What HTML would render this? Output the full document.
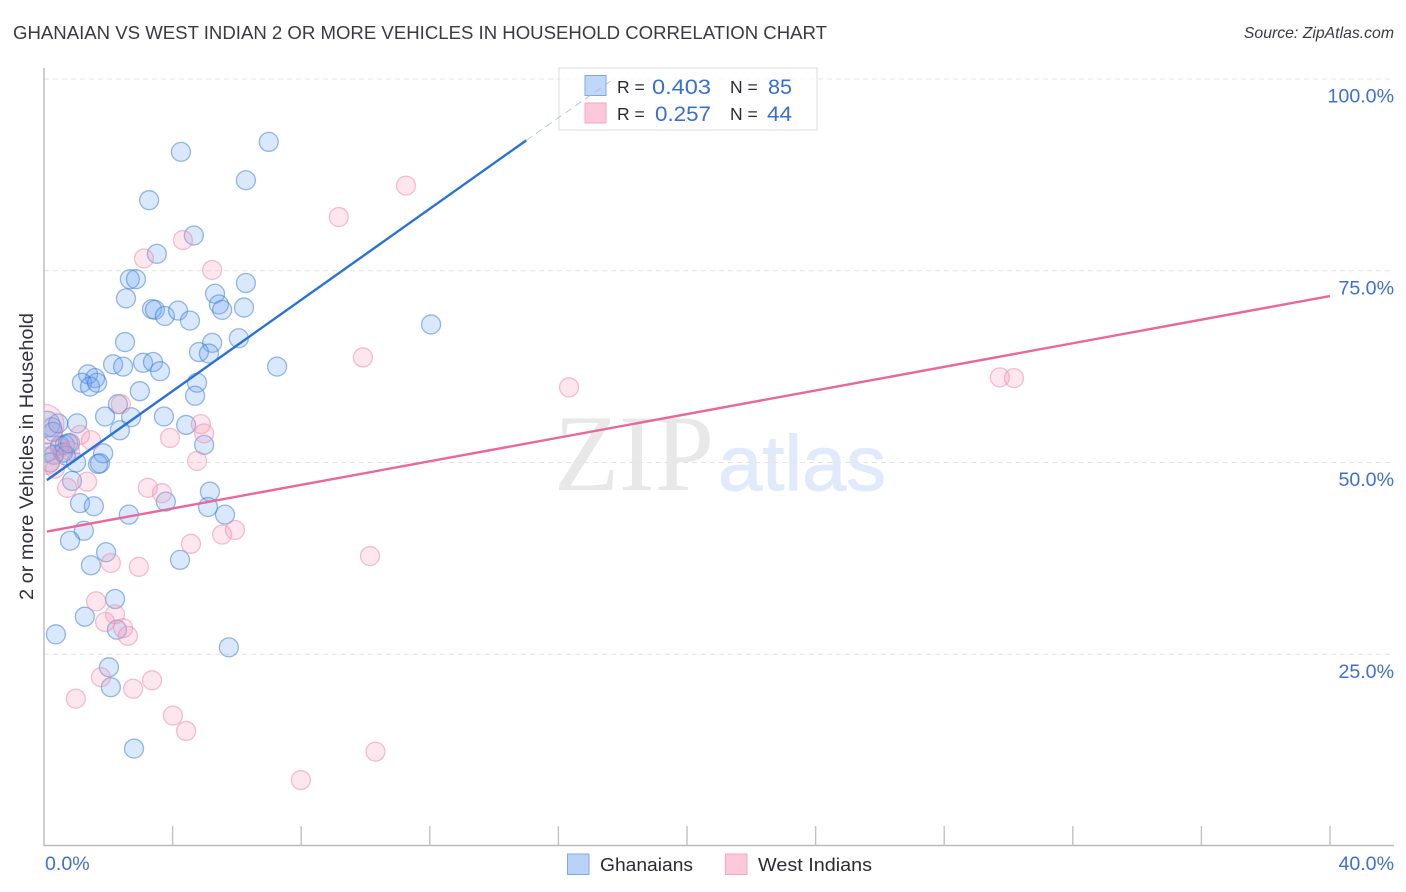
<!DOCTYPE html>
<html lang="en">
<head>
<meta charset="utf-8">
<title>Ghanaian vs West Indian 2 or more Vehicles in Household Correlation Chart</title>
<style>
html,body{margin:0;padding:0;background:#fff;width:1406px;height:892px;overflow:hidden}
svg{display:block;font-family:"Liberation Sans",sans-serif}
</style>
</head>
<body>
<svg id="chart" width="1406" height="892" viewBox="0 0 1406 892" xmlns="http://www.w3.org/2000/svg">
  <defs><clipPath id="plot-clip"><rect x="44" y="60" width="1360" height="786"/></clipPath></defs>
  <rect x="0" y="0" width="1406" height="892" fill="#fff"/>
  <text x="13" y="39" font-size="18.6" fill="#3a3a42" textLength="814" lengthAdjust="spacingAndGlyphs">GHANAIAN VS WEST INDIAN 2 OR MORE VEHICLES IN HOUSEHOLD CORRELATION CHART</text>
  <text x="1394" y="38" font-size="15.8" font-style="italic" fill="#3a3a44" text-anchor="end">Source: ZipAtlas.com</text>
  <text x="554" y="490" font-family="'Liberation Serif',serif" font-size="109" fill="#e8e8e8" textLength="160" lengthAdjust="spacingAndGlyphs">ZIP</text>
  <text x="718" y="490" font-size="78" fill="#e0eafa" stroke="#e0eafa" stroke-width="1" textLength="168" lengthAdjust="spacingAndGlyphs">atlas</text>
  <g id="grid"></g>
  <g id="ghanaian-points" clip-path="url(#plot-clip)"></g>
  <g id="west-indian-points" clip-path="url(#plot-clip)"></g>
  <g id="trend-lines"></g>
  <g id="axes"></g>
  <text transform="translate(33,456.5) rotate(-90)" font-size="19" fill="#33333b" text-anchor="middle" textLength="287" lengthAdjust="spacingAndGlyphs">2 or more Vehicles in Household</text>

  <g>
    <rect x="559" y="68" width="258" height="62" fill="#fff" fill-opacity="0.82" stroke="#dcdcdc" stroke-width="1"/>
    <rect x="585" y="75.500" width="21" height="20" fill="#b9d3f8" fill-opacity="0.9" stroke="#7fa8e0" stroke-width="1"/>
    <rect x="585" y="103" width="21" height="20" fill="#fcc8da" stroke="#f3a9c2" stroke-width="1"/>
    <text x="617" y="93" font-size="17.500" fill="#2b2b33">R =</text>
    <text x="652" y="94" font-size="21" fill="#3a6fd0" textLength="59" lengthAdjust="spacingAndGlyphs">0.403</text>
    <text x="730" y="93" font-size="17.500" fill="#2b2b33">N =</text>
    <text x="768" y="94" font-size="21" fill="#3a6fd0" textLength="24" lengthAdjust="spacingAndGlyphs">85</text>
    <text x="617" y="120" font-size="17.500" fill="#2b2b33">R =</text>
    <text x="655" y="121" font-size="21" fill="#3a6fd0" textLength="56" lengthAdjust="spacingAndGlyphs">0.257</text>
    <text x="730" y="120" font-size="17.500" fill="#2b2b33">N =</text>
    <text x="767" y="121" font-size="21" fill="#3a6fd0" textLength="25" lengthAdjust="spacingAndGlyphs">44</text>
  </g>

  <g id="trend-extension"></g>

  <g>
    <rect x="567.500" y="854" width="21.500" height="20.500" fill="#b9d3f8" stroke="#7fa8e0" stroke-width="1"/>
    <text x="600" y="871" font-size="18.500" fill="#2b2b33" textLength="93" lengthAdjust="spacingAndGlyphs">Ghanaians</text>
    <rect x="725.500" y="854" width="21.500" height="20.500" fill="#fcc8da" stroke="#f3a9c2" stroke-width="1"/>
    <text x="758" y="871" font-size="18.500" fill="#2b2b33" textLength="114" lengthAdjust="spacingAndGlyphs">West Indians</text>
  </g>
</svg>
<script>
const yTickValues = [25, 50, 75, 100];
const yTickLabels = ["25.0%", "50.0%", "75.0%", "100.0%"];
const xTickValues = [0, 4, 8, 12, 16, 20, 24, 28, 32, 36, 40];
const xEndLabels = ["0.0%", "40.0%"];

const ghanaianX = [4.26,6.99,6.28,3.27,4.66,3.51,2.67,2.86,2.55,6.28,5.32,5.44,5.54,6.22,3.36,3.45,3.76,4.17,4.54,6.06,2.52,5.23,4.82,5.13,12.04,7.25,2.15,2.46,3.08,3.39,3.61,4.76,1.37,1.59,1.18,1.43,1.65,2.98,4.70,2.30,1.90,2.71,3.73,1.03,2.36,4.42,4.98,1.84,1.74,1.68,1.00,0.87,1.12,1.55,3.79,5.16,5.10,5.63,2.64,1.24,0.81,1.93,1.46,4.23,2.21,1.27,2.27,0.37,5.75,2.02,2.08,2.80,0.09,0.25,0.28,0.44,0.50,0.65,0.75,0.59,0.68,0.81,0.31,0.09,0.19];
const ghanaianY = [90.5,91.8,86.8,84.2,79.6,77.2,73.9,73.9,71.4,73.4,72.0,70.6,69.9,70.2,70.0,69.9,69.1,69.8,68.5,66.2,65.7,65.6,64.4,64.2,68.0,62.5,62.8,62.5,63.0,63.1,61.9,60.4,61.5,61.0,60.4,59.9,60.4,59.3,58.7,57.6,56.0,55.9,56.0,55.1,54.2,54.9,52.3,51.2,49.9,49.8,50.0,47.6,44.7,44.3,44.9,46.2,44.2,43.2,43.2,41.1,39.8,38.3,36.6,37.3,32.2,29.9,28.2,27.6,25.9,23.3,20.7,12.7,55.0,54.6,54.0,55.1,52.2,52.3,52.5,51.3,50.9,52.5,51.0,51.3,50.0];
const westIndianX = [11.26,9.17,4.32,3.11,5.23,9.92,16.33,29.73,30.17,2.39,4.88,4.98,3.92,1.46,1.12,4.76,0.72,1.34,3.23,3.67,4.57,5.54,5.94,10.14,2.08,2.95,1.62,2.21,1.90,2.46,2.61,1.77,3.36,2.77,0.99,4.01,4.42,10.31,7.99,0.00,0.06,0.50,0.81,0.34];
const westIndianY = [86.1,82.0,79.0,76.6,75.1,63.7,59.8,61.1,61.0,57.6,55.0,53.8,53.2,52.9,53.6,50.2,46.7,47.5,46.7,46.0,39.4,40.6,41.2,37.8,36.9,36.4,31.9,30.2,29.2,28.4,27.4,22.0,21.6,20.5,19.2,17.0,15.0,12.3,8.6,55.0,50.2,51.9,51.5,49.2];
const ghanaianWeights = {72: 1.35};
const westIndianWeights = {39: 2.1, 40: 1.4};

const ghanaianTrend = {xStart: 0.09, xEnd: 15.0, yStart: 47.7, yEnd: 92.0, xDashEnd: 17.72, yDashEnd: 100};
const westIndianTrend = {xStart: 0.09, xEnd: 40, yStart: 41.0, yEnd: 71.7};

const NS = "http://www.w3.org/2000/svg";
const plot = {x0: 44, x1: 1330, y0: 846, y100: 79, right: 1394, top: 68};
const xScale = v => plot.x0 + (v / 40) * (plot.x1 - plot.x0);
const yScale = v => plot.y0 - (v / 100) * (plot.y0 - plot.y100);

function make(tag, parent, attrs, text) {
  const el = document.createElementNS(NS, tag);
  for (const k in attrs) el.setAttribute(k, attrs[k]);
  if (text !== undefined) el.textContent = text;
  parent.appendChild(el);
  return el;
}

const gridG = document.getElementById("grid");
yTickValues.forEach((v) => {
  const line = make("line", gridG, {x1: plot.x0, x2: plot.right, y1: yScale(v), y2: yScale(v), stroke: "#e4e4e4", "stroke-width": 1, "stroke-dasharray": "5 4"});
  
  
});

function drawPoints(groupId, xs, ys, weights, fill, stroke, name) {
  const g = document.getElementById(groupId);
  xs.forEach((x, i) => {
    const r = 9.5 * (weights[i] || 1);
    const c = make("circle", g, {cx: xScale(x), cy: yScale(ys[i]), r: r, fill: fill, "fill-opacity": 0.25, stroke: stroke, "stroke-opacity": 0.5, "stroke-width": 1.3});
    
    
  });
}
drawPoints("ghanaian-points", ghanaianX, ghanaianY, ghanaianWeights, "#6aa3ee", "#3478d0", "ghanaian-point");
drawPoints("west-indian-points", westIndianX, westIndianY, westIndianWeights, "#f79ab9", "#ea86a8", "west-indian-point");

const trendG = document.getElementById("trend-lines");
const blueSolid = make("line", trendG, {x1: xScale(ghanaianTrend.xStart), y1: yScale(ghanaianTrend.yStart), x2: xScale(ghanaianTrend.xEnd), y2: yScale(ghanaianTrend.yEnd), stroke: "#2a72d8", "stroke-width": 2.4});


const blueDash = make("line", document.getElementById("trend-extension"), {x1: xScale(ghanaianTrend.xEnd), y1: yScale(ghanaianTrend.yEnd), x2: xScale(ghanaianTrend.xDashEnd), y2: yScale(ghanaianTrend.yDashEnd), stroke: "#a9bcd8", "stroke-width": 0.8, "stroke-dasharray": "7 5"});


const pinkSolid = make("line", trendG, {x1: xScale(westIndianTrend.xStart), y1: yScale(westIndianTrend.yStart), x2: xScale(westIndianTrend.xEnd), y2: yScale(westIndianTrend.yEnd), stroke: "#e8689a", "stroke-width": 2.4});



const axesG = document.getElementById("axes");
const yAxis = make("line", axesG, {x1: plot.x0, x2: plot.x0, y1: plot.top, y2: plot.y0, stroke: "#bababa", "stroke-width": 1.4});


const xAxis = make("line", axesG, {x1: plot.x0, x2: plot.right, y1: plot.y0 - 0.5, y2: plot.y0 - 0.5, stroke: "#bababa", "stroke-width": 1.4});


xTickValues.slice(1).forEach((v) => {
  const t = make("line", axesG, {x1: xScale(v), x2: xScale(v), y1: 826, y2: plot.y0, stroke: "#c2c2c2", "stroke-width": 1.4});
  
  
});
yTickValues.forEach((v, i) => {
  const t = make("text", axesG, {x: 1394, y: yScale(v) + 23.5, "font-size": 19.6, fill: "#3f70cf", "text-anchor": "end"}, yTickLabels[i]);
  
  
});
const x0Label = make("text", axesG, {x: 45, y: 870, "font-size": 19.6, fill: "#3f70cf"}, xEndLabels[0]);


const x1Label = make("text", axesG, {x: 1394, y: 870, "font-size": 19.6, fill: "#3f70cf", "text-anchor": "end"}, xEndLabels[1]);


</script>
</body>
</html>
